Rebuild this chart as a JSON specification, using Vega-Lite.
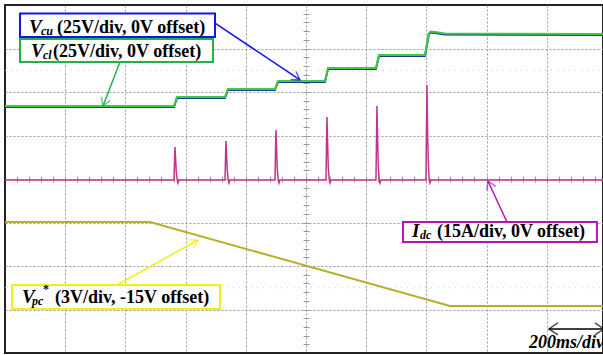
{
  "$schema": "https://vega.github.io/schema/vega-lite/v6.json",
  "width": 598,
  "height": 348,
  "autosize": {"type": "none"},
  "padding": {"left": 5, "top": 5, "right": 0, "bottom": 2},
  "background": "white",
  "config": {"view": {"stroke": "#222222", "strokeWidth": 2}, "font": "Liberation Serif"},
  "datasets": {
    "vcl": [
      {"t": 0, "v": 5.678}, {"t": 561.5, "v": 5.678}, {"t": 571.4, "v": 5.885}, {"t": 730.9, "v": 5.885},
      {"t": 740.9, "v": 6.069}, {"t": 897.0, "v": 6.069}, {"t": 907.0, "v": 6.253}, {"t": 1063.1, "v": 6.253},
      {"t": 1073.1, "v": 6.552}, {"t": 1232.6, "v": 6.552}, {"t": 1242.5, "v": 6.851}, {"t": 1395.4, "v": 6.851},
      {"t": 1408.7, "v": 7.356}, {"t": 1415, "v": 7.39}, {"t": 1428.6, "v": 7.379}, {"t": 1461.8, "v": 7.345},
      {"t": 1986.7, "v": 7.333}
    ],
    "vcu": [
      {"t": 0, "v": 5.655}, {"t": 561.5, "v": 5.655}, {"t": 571.4, "v": 5.862}, {"t": 730.9, "v": 5.862},
      {"t": 740.9, "v": 6.046}, {"t": 897.0, "v": 6.046}, {"t": 907.0, "v": 6.23}, {"t": 1063.1, "v": 6.23},
      {"t": 1073.1, "v": 6.529}, {"t": 1232.6, "v": 6.529}, {"t": 1242.5, "v": 6.828}, {"t": 1395.4, "v": 6.828},
      {"t": 1408.7, "v": 7.333}, {"t": 1415, "v": 7.367}, {"t": 1428.6, "v": 7.356}, {"t": 1461.8, "v": 7.322},
      {"t": 1986.7, "v": 7.31}
    ],
    "idc": [
      {"t": 0, "v": 3.977},
      {"t": 561.5, "v": 3.977}, {"t": 564.8, "v": 4.736}, {"t": 567.1, "v": 4.437}, {"t": 569.1, "v": 4.161}, {"t": 572.4, "v": 3.977}, {"t": 574.8, "v": 3.908}, {"t": 578.1, "v": 3.977},
      {"t": 730.9, "v": 3.977}, {"t": 734.2, "v": 4.874}, {"t": 736.5, "v": 4.483}, {"t": 738.5, "v": 4.207}, {"t": 741.8, "v": 3.977}, {"t": 744.2, "v": 3.908}, {"t": 747.5, "v": 3.977},
      {"t": 897.0, "v": 3.977}, {"t": 900.3, "v": 5.126}, {"t": 902.6, "v": 4.667}, {"t": 904.6, "v": 4.253}, {"t": 907.9, "v": 3.977}, {"t": 910.3, "v": 3.908}, {"t": 913.6, "v": 3.977},
      {"t": 1066.5, "v": 3.977}, {"t": 1069.8, "v": 5.425}, {"t": 1072.1, "v": 4.782}, {"t": 1074.1, "v": 4.276}, {"t": 1077.4, "v": 3.977}, {"t": 1079.8, "v": 3.908}, {"t": 1083.1, "v": 3.977},
      {"t": 1232.6, "v": 3.977}, {"t": 1235.9, "v": 5.678}, {"t": 1238.2, "v": 4.897}, {"t": 1240.2, "v": 4.322}, {"t": 1243.5, "v": 3.977}, {"t": 1245.9, "v": 3.908}, {"t": 1249.2, "v": 3.977},
      {"t": 1398.7, "v": 3.977}, {"t": 1402.0, "v": 6.161}, {"t": 1404.3, "v": 5.011}, {"t": 1406.3, "v": 4.437}, {"t": 1409.6, "v": 3.977}, {"t": 1412.0, "v": 3.908}, {"t": 1415.3, "v": 3.977},
      {"t": 1986.7, "v": 3.977}
    ],
    "vpc": [
      {"t": 0, "v": 3.011}, {"t": 481.7, "v": 3.011}, {"t": 1478.4, "v": 1.08}, {"t": 1986.7, "v": 1.08}
    ],
    "boxes": [
      {"s": "cu", "t": 49.8, "t2": 697.7, "v": 7.805, "v2": 7.264},
      {"s": "cl", "t": 49.8, "t2": 691.0, "v": 7.218, "v2": 6.69},
      {"s": "dc", "t": 1322.3, "t2": 1966.8, "v": 3.011, "v2": 2.552},
      {"s": "pc", "t": 23.3, "t2": 714.3, "v": 1.563, "v2": 1.011}
    ],
    "arrows": [
      {"s": "cu", "t": 697.7, "v": 7.586, "t2": 980.1, "v2": 6.276},
      {"s": "cl", "t": 382.1, "v": 6.69, "t2": 325.6, "v2": 5.678},
      {"s": "dc", "t": 1667.8, "v": 3.011, "t2": 1604.7, "v2": 3.954},
      {"s": "pc", "t": 372.1, "v": 1.563, "t2": 641.2, "v2": 2.598}
    ]
  },
  "encoding": {
    "x": {"field": "t", "type": "quantitative", "scale": {"domain": [0, 1987], "nice": false, "zero": false}, "axis": null},
    "y": {"field": "v", "type": "quantitative", "scale": {"domain": [0, 8], "nice": false, "zero": false}, "axis": null}
  },
  "layer": [
    {
      "data": {"values": [{"t": 0, "t2": 1987, "v": 6.5}, {"t": 0, "t2": 1987, "v": 1.5}]},
      "mark": {"type": "rule", "color": "#c8c8c8", "strokeDash": [1, 5], "strokeWidth": 1},
      "encoding": {"x2": {"field": "t2"}}
    },
    {
      "data": {"name": "vpc"},
      "mark": {"type": "line", "color": "#b4b02c", "strokeWidth": 2},
      "encoding": {
        "x": {"field": "t", "type": "quantitative", "scale": {"domain": [0, 1987], "nice": false, "zero": false},
          "axis": {"orient": "bottom", "values": [200, 400, 600, 800, 1000, 1200, 1400, 1600, 1800], "grid": true, "gridColor": "#9a9a9a", "gridDash": [2, 2], "gridWidth": 1, "ticks": false, "labels": false, "domain": false, "title": null}},
        "y": {"field": "v", "type": "quantitative", "scale": {"domain": [0, 8], "nice": false, "zero": false},
          "axis": {"orient": "left", "values": [1, 2, 3, 4, 5, 6, 7], "grid": true, "gridColor": "#9a9a9a", "gridDash": [2, 2], "gridWidth": 1, "ticks": false, "labels": false, "domain": false, "title": null}}
      }
    },
    {
      "data": {"name": "idc"},
      "mark": {"type": "line", "color": "#c2338f", "strokeWidth": 1.5},
      "encoding": {
        "x": {"field": "t", "type": "quantitative", "scale": {"domain": [0, 1987], "nice": false, "zero": false},
          "axis": {"orient": "bottom", "offset": -177, "values": [40,80,120,160,200,240,280,320,360,400,440,480,520,560,600,640,680,720,760,800,840,880,920,960,1000,1040,1080,1120,1160,1200,1240,1280,1320,1360,1400,1440,1480,1520,1560,1600,1640,1680,1720,1760,1800,1840,1880,1920,1960], "ticks": true, "tickSize": 6, "tickColor": "#999999", "tickWidth": 1, "labels": false, "domain": false, "grid": false, "title": null}},
        "y": {"field": "v", "type": "quantitative", "scale": {"domain": [0, 8], "nice": false, "zero": false},
          "axis": {"orient": "left", "offset": -304, "values": [0.2,0.4,0.6,0.8,1,1.2,1.4,1.6,1.8,2,2.2,2.4,2.6,2.8,3,3.2,3.4,3.6,3.8,4,4.2,4.4,4.6,4.8,5,5.2,5.4,5.6,5.8,6,6.2,6.4,6.6,6.8,7,7.2,7.4,7.6,7.8], "ticks": true, "tickSize": 6, "tickColor": "#999999", "tickWidth": 1, "labels": false, "domain": false, "grid": false, "title": null}}
      }
    },
    {
      "data": {"name": "vcu"},
      "mark": {"type": "line", "color": "#1f3a9a", "strokeWidth": 2}
    },
    {
      "data": {"name": "vcl"},
      "mark": {"type": "line", "color": "#3ccc3c", "strokeWidth": 2}
    },
    {
      "data": {"name": "arrows"},
      "mark": {"type": "rule", "strokeWidth": 1.5},
      "encoding": {
        "x2": {"field": "t2"}, "y2": {"field": "v2"},
        "color": {"field": "s", "type": "nominal", "scale": {"domain": ["cu", "cl", "dc", "pc"], "range": ["#1414e6", "#22b04b", "#b414b4", "#f0f014"]}, "legend": null}
      }
    },
    {
      "data": {"values": [{"t": 980.1, "v": 6.276}]},
      "mark": {"type": "point", "shape": "M-1,-0.6L0,0L-1,0.6", "size": 256, "filled": false, "strokeWidth": 1.5, "color": "#1414e6", "angle": 33.8}
    },
    {
      "data": {"values": [{"t": 325.6, "v": 5.678}]},
      "mark": {"type": "point", "shape": "M-1,-0.6L0,0L-1,0.6", "size": 256, "filled": false, "strokeWidth": 1.5, "color": "#22b04b", "angle": 111.1}
    },
    {
      "data": {"values": [{"t": 1604.7, "v": 3.954}]},
      "mark": {"type": "point", "shape": "M-1,-0.6L0,0L-1,0.6", "size": 256, "filled": false, "strokeWidth": 1.5, "color": "#b414b4", "angle": 245.7}
    },
    {
      "data": {"values": [{"t": 641.2, "v": 2.598}]},
      "mark": {"type": "point", "shape": "M-1,-0.6L0,0L-1,0.6", "size": 256, "filled": false, "strokeWidth": 1.5, "color": "#f0f014", "angle": 330.9}
    },
    {
      "data": {"name": "boxes"},
      "mark": {"type": "rect", "fill": "white", "strokeWidth": 2},
      "encoding": {
        "x2": {"field": "t2"}, "y2": {"field": "v2"},
        "stroke": {"field": "s", "type": "nominal", "scale": {"domain": ["cu", "cl", "dc", "pc"], "range": ["#1414e6", "#22b04b", "#b414b4", "#f0f014"]}, "legend": null}
      }
    },
    {
      "data": {"values": [
        {"t": 172.8, "v": 7.356, "label": "(25V/div, 0V offset)"},
        {"t": 159.5, "v": 6.805, "label": "(25V/div, 0V offset)"},
        {"t": 1435.2, "v": 2.667, "label": "(15A/div, 0V offset)"},
        {"t": 166.1, "v": 1.149, "label": "(3V/div, -15V offset)"}
      ]},
      "mark": {"type": "text", "align": "left", "baseline": "alphabetic", "font": "Liberation Serif", "fontSize": 18, "fontWeight": "bold", "color": "black"},
      "encoding": {"text": {"field": "label"}}
    },
    {
      "data": {"values": [
        {"t": 79.7, "v": 7.356, "label": "V"},
        {"t": 86.4, "v": 6.805, "label": "V"},
        {"t": 1352.2, "v": 2.667, "label": "I"},
        {"t": 56.5, "v": 1.149, "label": "V"}
      ]},
      "mark": {"type": "text", "align": "left", "baseline": "alphabetic", "font": "Liberation Serif", "fontSize": 19, "fontWeight": "bold", "fontStyle": "italic", "color": "black"},
      "encoding": {"text": {"field": "label"}}
    },
    {
      "data": {"values": [
        {"t": 119.6, "v": 7.31, "label": "cu"},
        {"t": 126.2, "v": 6.759, "label": "cl"},
        {"t": 1378.8, "v": 2.621, "label": "dc"},
        {"t": 89.7, "v": 1.103, "label": "pc"}
      ]},
      "mark": {"type": "text", "align": "left", "baseline": "alphabetic", "font": "Liberation Serif", "fontSize": 12, "fontWeight": "bold", "fontStyle": "italic", "color": "black"},
      "encoding": {"text": {"field": "label"}}
    },
    {
      "data": {"values": [{"t": 126.2, "v": 1.379, "label": "*"}]},
      "mark": {"type": "text", "align": "left", "baseline": "alphabetic", "font": "Liberation Serif", "fontSize": 12, "fontWeight": "bold", "color": "black"},
      "encoding": {"text": {"field": "label"}}
    },
    {
      "data": {"values": [{"t": 1740.9, "v": 0.115, "label": "200ms/div"}]},
      "mark": {"type": "text", "align": "left", "baseline": "alphabetic", "font": "Liberation Serif", "fontSize": 18, "fontWeight": "bold", "fontStyle": "italic", "color": "black"},
      "encoding": {"text": {"field": "label"}}
    },
    {
      "data": {"values": [{"t": 1807.3, "t2": 2010, "v": 0.552}]},
      "mark": {"type": "rule", "color": "black", "strokeWidth": 1.5},
      "encoding": {"x2": {"field": "t2"}}
    },
    {
      "data": {"values": [{"t": 1807.3, "v": 0.552}]},
      "mark": {"type": "point", "shape": "M-1.5,-1L0,0L-1.5,1", "size": 144, "filled": false, "strokeWidth": 1.5, "color": "black", "angle": 180}
    },
    {
      "data": {"values": [{"t": 1990, "v": 0.552}]},
      "mark": {"type": "point", "shape": "M-1.5,-1L0,0L-1.5,1", "size": 144, "filled": false, "strokeWidth": 1.5, "color": "black", "angle": 0}
    }
  ],
  "resolve": {"axis": {"x": "independent", "y": "independent"}}
}
